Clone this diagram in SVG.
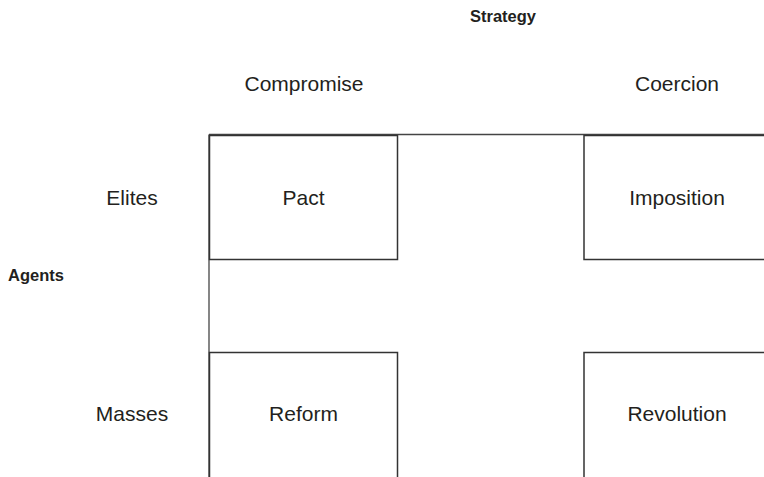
<svg xmlns="http://www.w3.org/2000/svg" width="764" height="477" viewBox="0 0 764 477">
  <style>
    .lbl { font-family: "Liberation Sans", Arial, Helvetica, sans-serif; font-size: 21px; fill: #231f20; }
    .head { font-family: "Liberation Sans", Arial, Helvetica, sans-serif; font-size: 16.5px; font-weight: bold; fill: #231f20; }
    .box { fill: #ffffff; stroke: #333333; stroke-width: 1.5; }
    .frame { fill: none; stroke: #444444; stroke-width: 1.3; }
  </style>
  <rect width="764" height="477" fill="#ffffff"/>

  <!-- axis headings -->
  <g id="strategy-axis">
    <text class="head" x="503" y="22" text-anchor="middle">Strategy</text>
    <text class="lbl" x="304" y="91" text-anchor="middle">Compromise</text>
    <text class="lbl" x="677" y="91" text-anchor="middle">Coercion</text>
  </g>
  <g id="agents-axis">
    <text class="head" x="36" y="281" text-anchor="middle">Agents</text>
    <text class="lbl" x="132" y="205" text-anchor="middle">Elites</text>
    <text class="lbl" x="132" y="421" text-anchor="middle">Masses</text>
  </g>

  <!-- frame lines joining the cells -->
  <g id="connectors">
    <line class="frame" x1="209" y1="134.5" x2="764" y2="134.5"/>
    <line class="frame" x1="209" y1="134.5" x2="209" y2="477"/>
  </g>

  <g id="pact">
    <rect class="box" x="209.5" y="135.5" width="188" height="124"/>
    <text class="lbl" x="303.5" y="205" text-anchor="middle">Pact</text>
  </g>
  <g id="imposition">
    <rect class="box" x="584" y="135.5" width="200" height="124"/>
    <text class="lbl" x="677" y="205" text-anchor="middle">Imposition</text>
  </g>
  <g id="reform">
    <rect class="box" x="209.5" y="352.5" width="188" height="140"/>
    <text class="lbl" x="303.5" y="421" text-anchor="middle">Reform</text>
  </g>
  <g id="revolution">
    <rect class="box" x="584" y="352.5" width="200" height="140"/>
    <text class="lbl" x="677" y="421" text-anchor="middle">Revolution</text>
  </g>
</svg>
